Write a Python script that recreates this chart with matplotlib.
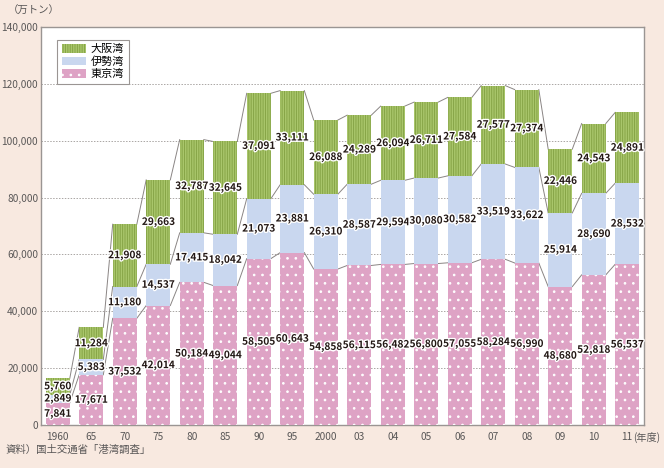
import matplotlib
matplotlib.use("Agg")
import matplotlib.pyplot as plt
import matplotlib.patheffects as pe
from matplotlib.patches import Patch
import numpy as np

plt.rcParams['font.family'] = ['Noto Sans CJK JP', 'DejaVu Sans']
plt.rcParams['hatch.linewidth'] = 0.7

years = ["1960", "65", "70", "75", "80", "85", "90", "95", "2000",
         "03", "04", "05", "06", "07", "08", "09", "10", "11"]

tokyo = [7841, 17671, 37532, 42014, 50184, 49044, 58505, 60643, 54858,
         56115, 56482, 56800, 57055, 58284, 56990, 48680, 52818, 56537]
ise = [2849, 5383, 11180, 14537, 17415, 18042, 21073, 23881, 26310,
       28587, 29594, 30080, 30582, 33519, 33622, 25914, 28690, 28532]
osaka = [5760, 11284, 21908, 29663, 32787, 32645, 37091, 33111, 26088,
         24289, 26094, 26711, 27584, 27577, 27374, 22446, 24543, 24891]

bg = "#f8e9e0"
pink = "#dea3c5"
blue = "#c9d7ef"
green = "#a9c66b"
green_dark = "#86a446"
txt = "#231815"
gray = "#9a9593"
lab = "#595757"

fig = plt.figure(figsize=(6.64, 4.68), dpi=100, facecolor=bg)
ax = fig.add_axes([41/664, 1 - 425/468, 603/664, 398/468])
ax.set_facecolor("white")

x = np.arange(len(years))
w = 0.72
t = np.array(tokyo)
i_ = np.array(ise)
o = np.array(osaka)

ax.bar(x, t, w, color=pink, edgecolor="white", hatch="..", linewidth=0, zorder=3)
ax.bar(x, i_, w, bottom=t, color=blue, linewidth=0, zorder=3)
ax.bar(x, o, w, bottom=t + i_, color=green, edgecolor=green_dark, hatch="|||||||",
       linewidth=0, zorder=3)

# series lines between bars
for level in [t, t + i_, t + i_ + o]:
    for k in range(len(x) - 1):
        ax.plot([x[k] + w/2, x[k+1] - w/2], [level[k], level[k+1]],
                color="#8a8584", lw=0.7, zorder=2)

stroke = [pe.withStroke(linewidth=2, foreground="white")]
for k in range(len(x)):
    bottoms = [0, t[k], t[k] + i_[k]]
    for b, v in zip(bottoms, [t[k], i_[k], o[k]]):
        ax.text(x[k], b + v/2, f"{v:,}", ha="center", va="center",
                fontsize=7.3, fontweight="bold", color=txt, zorder=5,
                path_effects=stroke)

ax.set_xlim(-0.5, len(x) - 0.5)
ax.set_ylim(0, 140000)
ax.set_yticks(np.arange(0, 140001, 20000))
ax.set_yticklabels([f"{v:,}" for v in range(0, 140001, 20000)])
ax.set_xticks(x)
ax.set_xticklabels(years)
ax.tick_params(length=0, labelsize=7.3, colors=lab)
ax.tick_params(axis="y", pad=2)
ax.tick_params(axis="x", pad=5)
ax.grid(axis="y", color="#aaa6a4", linestyle=(0, (1.5, 1.5)), lw=0.7, zorder=1)
for s in ax.spines.values():
    s.set_color(gray)
    s.set_linewidth(1)

ax.text(len(x) - 1 + 0.17, -0.0176, "(年度)", transform=ax.get_xaxis_transform(),
        ha="left", va="top", fontsize=7.3, color=lab)
fig.text(8/664, 1 - 11/468, "（万トン）", ha="left", va="center", fontsize=7.5, color=lab)
fig.text(6/664, 1 - 450/468, "資料）国土交通省「港湾調査」", ha="left", va="center",
         fontsize=7.5, color=lab)

handles = [Patch(facecolor=green, edgecolor=green_dark, hatch="|||||||", linewidth=0),
           Patch(facecolor=blue, linewidth=0),
           Patch(facecolor=pink, edgecolor="white", hatch="..", linewidth=0)]
leg = ax.legend(handles, ["大阪湾", "伊勢湾", "東京湾"], loc="upper left",
                bbox_to_anchor=(0.018, 0.982), fontsize=8, fancybox=False,
                framealpha=1, edgecolor=gray, handlelength=2.2, handleheight=0.8,
                handletextpad=0.4, borderpad=0.4, labelspacing=0.2)
leg.get_frame().set_linewidth(0.8)
leg.set_zorder(6)

fig.savefig("out.png", dpi=100, facecolor=bg)
